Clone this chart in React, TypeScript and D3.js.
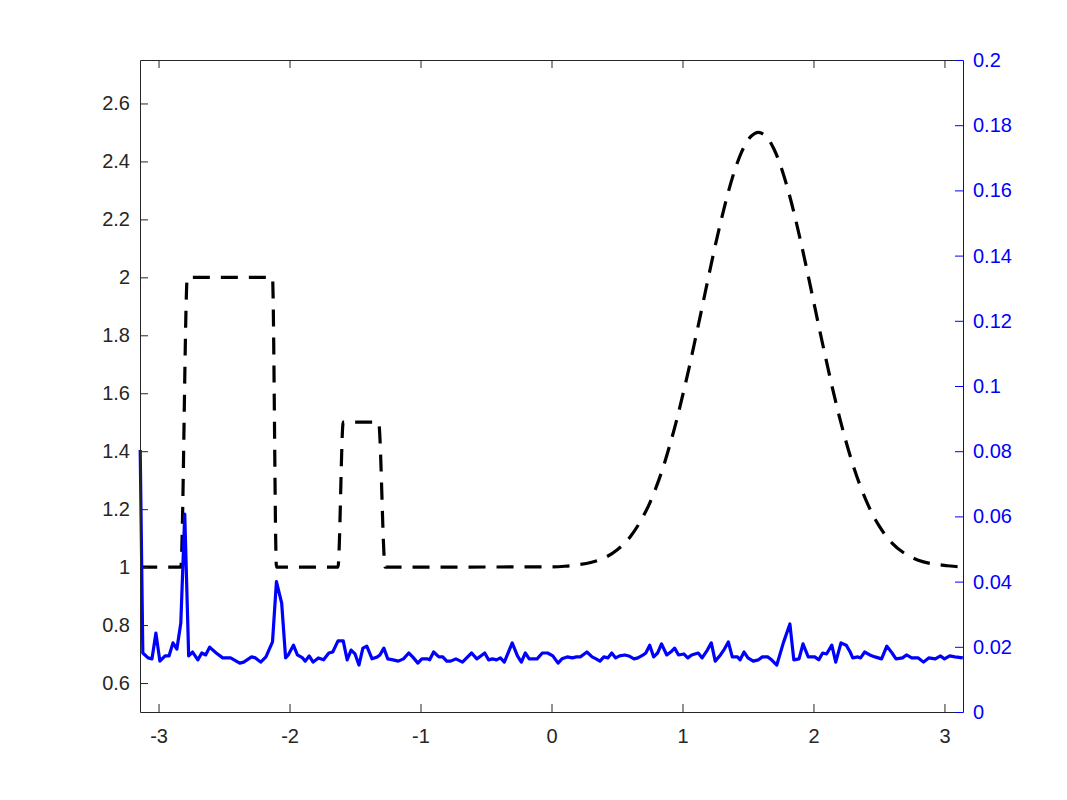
import React, { useEffect, useRef } from 'react'
import { select, scaleLinear, axisBottom, axisLeft, axisRight, axisTop, line, range, curveMonotoneX } from 'd3'

// black dashed profile (left axis)
const profileX = [-3.14, -2.83, -2.78, -2.13, -2.10, -1.63, -1.59, -1.32, -1.27, 0,
  0.1, 0.2, 0.3, 0.4, 0.5, 0.6, 0.7, 0.75, 0.8, 0.85, 0.9, 0.95, 1.0, 1.05, 1.1, 1.15, 1.2, 1.25, 1.3, 1.35,
  1.4, 1.45, 1.5, 1.55, 1.58, 1.6, 1.65, 1.7, 1.75, 1.8, 1.85, 1.9, 1.95, 2.0, 2.05, 2.1, 2.15, 2.2, 2.25,
  2.3, 2.35, 2.4, 2.45, 2.5, 2.6, 2.7, 2.8, 2.9, 3.0, 3.1, 3.14]
const profileY = [1, 1, 2, 2, 1, 1, 1.5, 1.5, 1, 1.001,
  1.003, 1.008, 1.016, 1.031, 1.059, 1.104, 1.175, 1.221, 1.277, 1.341, 1.416, 1.498, 1.59, 1.687, 1.791, 1.897, 2.005, 2.109, 2.206, 2.295,
  2.371, 2.431, 2.474, 2.496, 2.5, 2.498, 2.48, 2.441, 2.384, 2.311, 2.225, 2.129, 2.026, 1.919, 1.812, 1.708, 1.608, 1.515, 1.431,
  1.355, 1.289, 1.232, 1.183, 1.143, 1.083, 1.046, 1.024, 1.012, 1.006, 1.002, 1.002]

// blue error curve (right axis)
const errX = [-3.14, -3.12, -3.08, -3.05, -3.02, -2.99, -2.95, -2.92, -2.89, -2.86, -2.83, -2.80, -2.77, -2.74,
  -2.70, -2.67, -2.64, -2.61, -2.56, -2.51, -2.45, -2.38, -2.35, -2.29, -2.26, -2.22, -2.18, -2.13, -2.10,
  -2.06, -2.03, -2.01, -1.97, -1.94, -1.90, -1.88, -1.85, -1.82, -1.78, -1.74, -1.70, -1.67, -1.63, -1.59,
  -1.56, -1.53, -1.50, -1.47, -1.44, -1.41, -1.37, -1.33, -1.31, -1.28, -1.25, -1.21, -1.17, -1.13, -1.09,
  -1.06, -1.02, -0.99, -0.95, -0.93, -0.90, -0.86, -0.83, -0.80, -0.77, -0.73, -0.68, -0.64, -0.61, -0.57,
  -0.54, -0.51, -0.48, -0.45, -0.42, -0.39, -0.36, -0.30, -0.26, -0.23, -0.20, -0.17, -0.14, -0.11, -0.07,
  -0.03, 0.01, 0.05, 0.08, 0.12, 0.16, 0.19, 0.22, 0.24, 0.27, 0.31, 0.34, 0.37, 0.40, 0.43, 0.46, 0.49,
  0.52, 0.56, 0.59, 0.63, 0.66, 0.70, 0.72, 0.75, 0.78, 0.81, 0.84, 0.88, 0.91, 0.94, 0.97,
  1.01, 1.04, 1.07, 1.12, 1.15, 1.19, 1.22, 1.25, 1.29, 1.32, 1.35, 1.38, 1.42, 1.44, 1.47, 1.50, 1.54,
  1.58, 1.61, 1.65, 1.68, 1.72, 1.77, 1.82, 1.85, 1.89, 1.92, 1.96,
  2.01, 2.04, 2.07, 2.10, 2.14, 2.17, 2.21, 2.25, 2.28, 2.30, 2.34, 2.36, 2.39, 2.43, 2.47, 2.52, 2.56,
  2.60, 2.63, 2.68, 2.71, 2.75, 2.80, 2.84, 2.88, 2.93, 2.97, 3.00, 3.04, 3.08, 3.14]
const errY = [0.0804, 0.0181, 0.0166, 0.0163, 0.0242, 0.0156, 0.0172, 0.0172, 0.0212, 0.0193, 0.0273, 0.0607, 0.0172, 0.0184,
  0.0160, 0.0181, 0.0175, 0.0199, 0.0181, 0.0166, 0.0166, 0.0150, 0.0153, 0.0169, 0.0166, 0.0153, 0.0169, 0.0215, 0.0400,
  0.0334, 0.0166, 0.0175, 0.0205, 0.0175, 0.0166, 0.0156, 0.0172, 0.0153, 0.0166, 0.0160, 0.0181, 0.0184, 0.0218, 0.0218,
  0.0160, 0.0190, 0.0178, 0.0144, 0.0196, 0.0202, 0.0163, 0.0169, 0.0175, 0.0196, 0.0163, 0.0160, 0.0156, 0.0163, 0.0181,
  0.0169, 0.0150, 0.0163, 0.0163, 0.0160, 0.0184, 0.0169, 0.0169, 0.0156, 0.0156, 0.0163, 0.0153, 0.0169, 0.0181, 0.0163,
  0.0172, 0.0181, 0.0160, 0.0163, 0.0160, 0.0166, 0.0153, 0.0212, 0.0172, 0.0153, 0.0181, 0.0163, 0.0163, 0.0163, 0.0181,
  0.0181, 0.0172, 0.0150, 0.0163, 0.0169, 0.0166, 0.0169, 0.0169, 0.0175, 0.0184, 0.0169, 0.0163, 0.0156, 0.0169, 0.0166, 0.0181, 0.0166,
  0.0172, 0.0175, 0.0172, 0.0163, 0.0166, 0.0175, 0.0181, 0.0205, 0.0169, 0.0181, 0.0209, 0.0175, 0.0184, 0.0196, 0.0175,
  0.0178, 0.0166, 0.0175, 0.0181, 0.0166, 0.0190, 0.0212, 0.0156, 0.0175, 0.0193, 0.0215, 0.0169, 0.0169, 0.0160, 0.0184, 0.0166, 0.0156,
  0.0160, 0.0169, 0.0169, 0.0160, 0.0144, 0.0212, 0.0270, 0.0160, 0.0163, 0.0209, 0.0169,
  0.0169, 0.0160, 0.0181, 0.0178, 0.0205, 0.0153, 0.0212, 0.0205, 0.0184, 0.0166, 0.0169, 0.0166, 0.0184, 0.0175, 0.0169, 0.0163, 0.0202,
  0.0181, 0.0163, 0.0166, 0.0175, 0.0166, 0.0166, 0.0153, 0.0166, 0.0163, 0.0172, 0.0163, 0.0172, 0.0169, 0.0166]

const xTicks = [-3, -2, -1, 0, 1, 2, 3]
const leftTicks = [0.6, 0.8, 1, 1.2, 1.4, 1.6, 1.8, 2, 2.2, 2.4, 2.6]
const rightTicks = range(0, 11).map(i => i / 50)

function Chart() {
  const ref = useRef(null)

  useEffect(() => {
    document.body.style.margin = '0'
    const svg = select(ref.current)
    svg.selectAll('*').remove()

    const x0 = 140, x1 = 963, yTop = 60, yBot = 712
    const fmt = d => String(+(+d).toFixed(3))
    const ink = '#262626'
    const blue = '#0000ff'
    const font = '"Liberation Sans", Arial, Helvetica, sans-serif'

    const x = scaleLinear().domain([-Math.PI, Math.PI]).range([x0, x1])
    const yL = scaleLinear().domain([0.5, 2.75]).range([yBot, yTop])
    const yR = scaleLinear().domain([0, 0.2]).range([yBot, yTop])

    const g = svg.append('g')

    const profile = profileX.map((v, i) => [v, profileY[i]])
    const err = errX.map((v, i) => [v, errY[i]])

    g.append('path')
      .datum(profile)
      .attr('d', line().curve(curveMonotoneX).x(d => x(d[0])).y(d => yL(d[1])))
      .style('fill', 'none')
      .style('stroke', '#000')
      .style('stroke-width', 3.2)
      .style('stroke-dasharray', '17,11')

    g.append('path')
      .datum(err)
      .attr('d', line().x(d => x(d[0])).y(d => yR(d[1])))
      .style('fill', 'none')
      .style('stroke', blue)
      .style('stroke-width', 3.2)
      .style('stroke-linejoin', 'round')

    // axes
    const styleAxis = (sel, color) => {
      sel.select('.domain').attr('stroke', color).attr('stroke-width', 1)
      sel.selectAll('.tick line').attr('stroke', color).attr('stroke-width', 1)
      sel.selectAll('.tick text').attr('fill', color).style('font-family', font).style('font-size', '20px')
    }

    const bottom = g.append('g').attr('transform', `translate(0,${yBot})`)
      .call(axisBottom(x).tickValues(xTicks).tickFormat(fmt).tickSizeInner(-8).tickSizeOuter(0).tickPadding(17))
    styleAxis(bottom, ink)

    const top = g.append('g').attr('transform', `translate(0,${yTop})`)
      .call(axisTop(x).tickValues(xTicks).tickFormat(() => '').tickSizeInner(-8).tickSizeOuter(0))
    styleAxis(top, ink)

    const left = g.append('g').attr('transform', `translate(${x0},0)`)
      .call(axisLeft(yL).tickValues(leftTicks).tickFormat(fmt).tickSizeInner(-8).tickSizeOuter(0).tickPadding(10))
    styleAxis(left, ink)

    const right = g.append('g').attr('transform', `translate(${x1},0)`)
      .call(axisRight(yR).tickValues(rightTicks).tickFormat(fmt).tickSizeInner(-8).tickSizeOuter(0).tickPadding(10))
    styleAxis(right, blue)
  }, [])

  return <svg ref={ref} width={1067} height={800} style={{ display: 'block', background: '#fff' }}></svg>
}

export default function App() {
  return <Chart />
}
